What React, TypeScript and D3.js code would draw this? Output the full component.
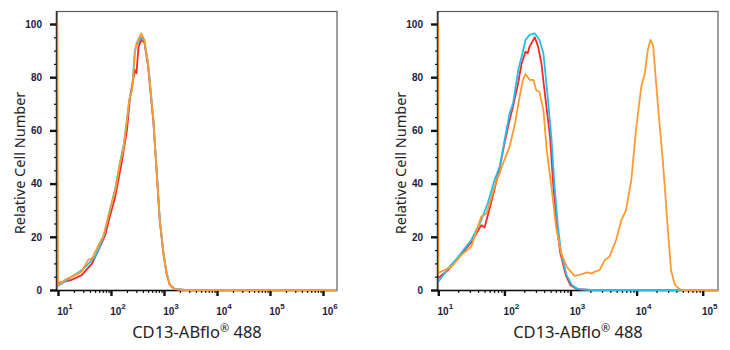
import { useEffect, useRef } from "react";
import * as d3 from "d3";

type Pt = [number, number];

// [fluorescence intensity, relative cell number]
const leftRed: Pt[] = [
  [10, 2.6], [18, 3.8], [28, 5.6], [44, 10], [58, 15], [78, 20.7], [95, 27.6],
  [120, 35], [158, 47.6], [200, 60], [229, 72.7], [282, 82.7], [302, 81.5],
  [331, 91.5], [372, 94], [427, 93], [501, 84], [631, 63], [724, 45], [832, 26],
  [977, 13.5], [1120, 6], [1290, 1.8], [1620, 0.3], [2500, 0], [1.8e6, 0],
];
const leftCyan: Pt[] = [
  [10, 1.5], [14, 3.5], [20, 5.5], [30, 7.8], [40, 10.5], [50, 12.5], [60, 16],
  [75, 21], [95, 30], [120, 38], [148, 48], [175, 55], [200, 64], [225, 72],
  [251, 76], [282, 90], [302, 92], [372, 95], [427, 93.5], [501, 85], [631, 64],
  [724, 45.5], [832, 26.5], [977, 14], [1120, 6.5], [1290, 2], [1620, 0.3],
  [2500, 0], [1.8e6, 0],
];
const leftOrange: Pt[] = [
  [9.7, 101.3], [10, 1.9], [13.5, 3.8], [21, 5.6], [28, 6.9], [37, 11.3],
  [44, 11.9], [58, 16.9], [71, 20], [89, 27.6], [120, 37.6], [148, 47.6],
  [170, 52.6], [200, 63.9], [219, 71.4], [251, 75.2], [282, 89], [302, 92.7],
  [372, 96.5], [427, 94], [501, 85.2], [631, 63.9], [724, 45], [832, 26.3],
  [977, 13.8], [1120, 6.3], [1290, 1.9], [1620, 0.3], [2500, 0], [1.8e6, 0],
];

const rightRed: Pt[] = [
  [10, 4.5], [14, 7.5], [20, 12], [31.6, 18], [44.7, 24.4], [50, 23.5],
  [56, 28], [71, 38], [85, 46], [100, 55], [120, 64], [135, 69], [162, 78],
  [182, 85.2], [209, 89.6], [225, 89], [240, 91.5], [288, 95], [324, 91.5],
  [363, 85.2], [400, 76], [490, 57.6], [550, 39], [620, 24], [700, 14],
  [850, 5.5], [1000, 1.8], [1260, 0.3], [2000, 0], [1.7e5, 0],
];
const rightCyan: Pt[] = [
  [10, 3.1], [14.1, 8.1], [20, 12.5], [31.6, 18.8], [44.7, 26.3], [56, 32.6],
  [71, 41.4], [85, 46.5], [100, 56], [120, 66.4], [135, 70.2], [162, 82.7],
  [182, 87.7], [209, 94], [240, 95.9], [288, 96.5], [339, 94], [389, 89],
  [437, 76.4], [513, 57.6], [575, 38.8], [646, 23.8], [724, 13.8], [871, 5.6],
  [1047, 1.9], [1318, 0.3], [2000, 0], [1.7e5, 0],
];
const rightOrange: Pt[] = [
  [9.95, 101.3], [10, 6.4], [15.8, 8.8], [22.4, 13.2], [31.6, 16.3],
  [44.7, 27.6], [53.7, 28.8], [71, 38.8], [95.5, 47.6], [120, 53.9],
  [145, 62.7], [170, 72.7], [191, 79], [209, 81.2], [240, 79], [275, 79],
  [302, 75.2], [339, 74.4], [389, 67.7], [437, 52.6], [479, 45], [537, 35],
  [603, 23.8], [724, 13.8], [871, 8.8], [1148, 5.3], [1400, 5.8], [1622, 6.3],
  [1800, 6.6], [2100, 6.2], [2344, 6.9], [2754, 7.5], [3311, 11.3],
  [3890, 12.5], [4898, 18.8], [5888, 26.3], [6918, 30], [8318, 41.4],
  [9772, 60], [11750, 76.4], [13180, 80.8], [14790, 90.2], [16220, 94],
  [17780, 92], [20890, 70.2], [25120, 47.6], [29510, 23.8], [33110, 7.5],
  [38020, 1.9], [44670, 0.3], [50000, 0], [1.7e5, 0],
];

const yMajor = [0, 20, 40, 60, 80, 100];
const leftDecades = [1, 2, 3, 4, 5, 6];
const rightDecades = [1, 2, 3, 4, 5];
const xTitle = "CD13-ABflo";
const xTitleTail = " 488";
const yTitle = "Relative Cell Number";

const RED = "#ff2626";
const CYAN = "#1fbff0";
const ORANGE = "#ff9a30";

interface Panel {
  left: number;
  right: number;
  firstTick: number;
  lastTick: number;
  decades: number[];
  red: Pt[];
  cyan: Pt[];
  orange: Pt[];
}

const TOP = 11;
const BOTTOM = 290;

function drawPanel(
  svg: d3.Selection<SVGSVGElement, unknown, null, undefined>,
  p: Panel,
  id: string
) {
  const maxDec = p.decades[p.decades.length - 1];
  const x = d3
    .scaleLog()
    .domain([10, Math.pow(10, maxDec)])
    .range([p.firstTick, p.lastTick]);
  const y = d3.scaleLinear().domain([0, 100]).range([BOTTOM, 24]);

  const g = svg.append("g");

  svg
    .append("defs")
    .append("clipPath")
    .attr("id", id)
    .append("rect")
    .attr("x", p.left - 1)
    .attr("y", TOP)
    .attr("width", p.right - p.left + 1)
    .attr("height", BOTTOM - TOP + 1);

  // frame
  g.append("rect")
    .attr("x", p.left)
    .attr("y", TOP + 0.5)
    .attr("width", p.right - p.left)
    .attr("height", BOTTOM - TOP)
    .attr("fill", "none")
    .attr("stroke", "#5a5a5a")
    .attr("stroke-width", 1.2);

  // x axis ticks (major + minor)
  const minor: number[] = [];
  p.decades.forEach((d) => {
    for (let k = 1; k < 10; k++) {
      const v = k * Math.pow(10, d);
      if (x(v) < p.right - 2) minor.push(v);
    }
  });
  const xMinorAxis = d3
    .axisBottom(x)
    .tickValues(minor)
    .tickSize(3)
    .tickSizeOuter(0)
    .tickFormat(() => "");
  const xm = g
    .append("g")
    .attr("transform", `translate(0,${BOTTOM})`)
    .call(xMinorAxis);
  xm.select(".domain").remove();
  xm.selectAll("line").attr("stroke", "#111").attr("stroke-width", 1.2);

  const majors = p.decades.map((d) => Math.pow(10, d));
  const xMajorAxis = d3
    .axisBottom(x)
    .tickValues(majors)
    .tickSize(6)
    .tickSizeOuter(0)
    .tickFormat(() => "");
  const xa = g
    .append("g")
    .attr("transform", `translate(0,${BOTTOM})`)
    .call(xMajorAxis);
  xa.select(".domain").remove();
  xa.selectAll("line").attr("stroke", "#111").attr("stroke-width", 2.4);

  g.append("line")
    .attr("x1", p.left)
    .attr("x2", p.right)
    .attr("y1", BOTTOM + 0.5)
    .attr("y2", BOTTOM + 0.5)
    .attr("stroke", "#111")
    .attr("stroke-width", 1.6);

  p.decades.forEach((d) => {
    const t = g
      .append("text")
      .attr("x", x(Math.pow(10, d)) + 7)
      .attr("y", 315)
      .attr("text-anchor", "middle")
      .attr("font-family", "Liberation Sans, Arial, sans-serif")
      .attr("font-size", 10)
      .attr("font-weight", "bold")
      .attr("fill", "#1c1c36");
    t.append("tspan").text("10");
    t.append("tspan").attr("dy", -6).attr("font-size", 8).text(String(d));
  });

  // y axis
  const yMinor = d3.range(0, 101, 5);
  const yMinorAxis = d3
    .axisLeft(y)
    .tickValues(yMinor)
    .tickSize(3)
    .tickSizeOuter(0)
    .tickFormat(() => "");
  const ym = g
    .append("g")
    .attr("transform", `translate(${p.left},0)`)
    .call(yMinorAxis);
  ym.select(".domain").remove();
  ym.selectAll("line").attr("stroke", "#111").attr("stroke-width", 1.2);

  const yAxis = d3
    .axisLeft(y)
    .tickValues(yMajor)
    .tickSize(7)
    .tickPadding(8)
    .tickSizeOuter(0);
  const ya = g
    .append("g")
    .attr("transform", `translate(${p.left},0)`)
    .call(yAxis);
  ya.select(".domain").remove();
  ya.selectAll("line").attr("stroke", "#111").attr("stroke-width", 2.4);
  ya.selectAll("text")
    .attr("font-family", "Liberation Sans, Arial, sans-serif")
    .attr("font-size", 10)
    .attr("font-weight", "bold")
    .attr("fill", "#1c1c36");

  // curves
  const xEnd = x.invert(p.right);
  const line = d3
    .line<Pt>()
    .x((d) => x(Math.min(d[0], xEnd)))
    .y((d) => y(d[1]));
  const curves = g.append("g").attr("clip-path", `url(#${id})`);
  [
    [p.red, RED],
    [p.cyan, CYAN],
    [p.orange, ORANGE],
  ].forEach(([data, color]) => {
    curves
      .append("path")
      .datum(data as Pt[])
      .attr("fill", "none")
      .attr("stroke", color as string)
      .attr("stroke-width", 1.8)
      .attr("stroke-linejoin", "round")
      .attr("d", line);
  });

  // left axis line
  g.append("line")
    .attr("x1", p.left - 0.5)
    .attr("x2", p.left - 0.5)
    .attr("y1", TOP)
    .attr("y2", BOTTOM + 1)
    .attr("stroke", "#111")
    .attr("stroke-width", 1.6)
    .attr("opacity", 0.75);

  // titles
  const cx = (p.left + p.right) / 2;
  const xt = g
    .append("text")
    .attr("x", cx)
    .attr("y", 338)
    .attr("text-anchor", "middle")
    .attr("font-family", "Noto Sans, Open Sans, sans-serif")
    .attr("font-size", 16.5)
    .attr("fill", "#222");
  xt.append("tspan").text(xTitle);
  xt.append("tspan").attr("dy", -6).attr("font-size", 11).text("®");
  xt.append("tspan").attr("dy", 6).text(xTitleTail);

  g.append("text")
    .attr("transform", `translate(${p.left - 32},163) rotate(-90)`)
    .attr("text-anchor", "middle")
    .attr("font-family", "Noto Sans, Open Sans, sans-serif")
    .attr("font-size", 14.5)
    .attr("fill", "#222")
    .text(yTitle);
}

export default function App() {
  const svgRef = useRef<SVGSVGElement>(null);

  useEffect(() => {
    if (!svgRef.current) return;
    const svg = d3.select(svgRef.current);
    svg.selectAll("*").remove();

    drawPanel(
      svg,
      {
        left: 57,
        right: 337,
        firstTick: 58,
        lastTick: 323,
        decades: leftDecades,
        red: leftRed,
        cyan: leftCyan,
        orange: leftOrange,
      },
      "clipL"
    );
    drawPanel(
      svg,
      {
        left: 438,
        right: 718,
        firstTick: 438.3,
        lastTick: 702.7,
        decades: rightDecades,
        red: rightRed,
        cyan: rightCyan,
        orange: rightOrange,
      },
      "clipR"
    );
  }, []);

  return (
    <svg
      ref={svgRef}
      width={730}
      height={350}
      style={{ position: "absolute", left: 0, top: 0, background: "#fff" }}
    />
  );
}
